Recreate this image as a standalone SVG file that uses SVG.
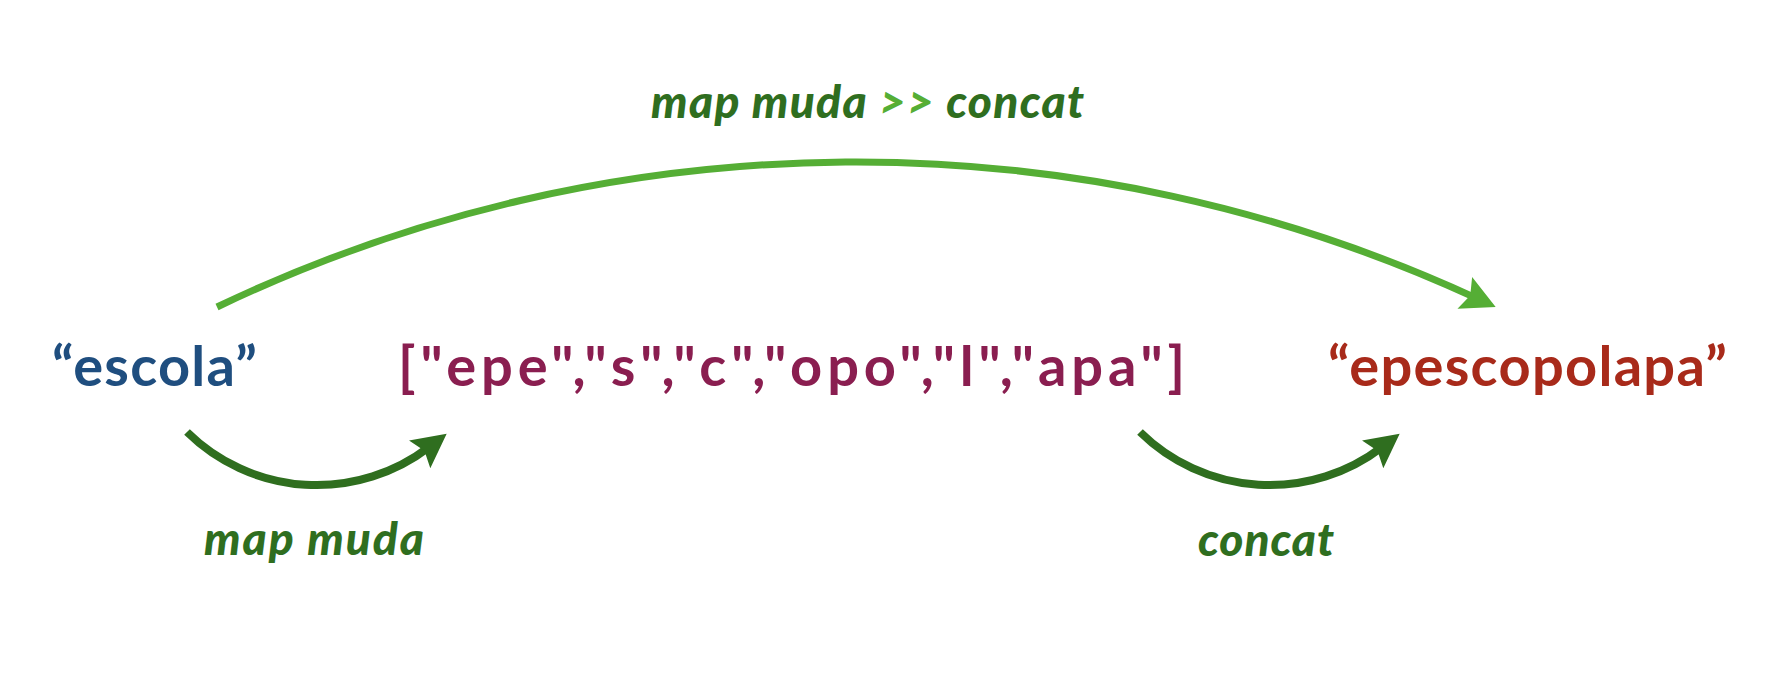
<svg xmlns="http://www.w3.org/2000/svg" width="1768" height="674" viewBox="0 0 1768 674">
  <style>
    .node { font-family: Lato, "Open Sans", "Liberation Sans", sans-serif; font-weight: 700; font-size: 56px; }
    .blue { fill: #1f4e7f; }
    .purple { fill: #8a1e50; }
    .red { fill: #a82a1a; }
    .label { font-family: Lato, "Open Sans", "Liberation Sans", sans-serif; font-weight: 900; font-style: italic; font-size: 46px; fill: #2f6e1f; }
    .light { fill: #55ae35; }
    .dark-arc { fill: none; stroke: #2f6e1f; stroke-width: 8; }
    .light-arc { fill: none; stroke: #55ae35; stroke-width: 7; }
  </style>
  <defs>
    <marker id="arrow-dark" markerUnits="userSpaceOnUse" viewBox="-2 -20 42 40" refX="12" refY="0" markerWidth="42" markerHeight="40" orient="auto" overflow="visible">
      <path d="M0,-17.5 L34,0 L0,17.5 L6,0 Z" fill="#2f6e1f"/>
    </marker>
    <marker id="arrow-light" markerUnits="userSpaceOnUse" viewBox="-2 -20 42 40" refX="12" refY="0" markerWidth="42" markerHeight="40" orient="auto" overflow="visible">
      <path d="M0,-17.5 L34,0 L0,17.5 L6,0 Z" fill="#55ae35"/>
    </marker>
  </defs>
  <rect width="1768" height="674" fill="#ffffff"/>

  <g id="connectors">
    <path id="edge-compose" class="light-arc" d="M217,307 A1480.5,1480.5 0 0 1 1475.7,297.9" marker-end="url(#arrow-light)"/>
    <path id="edge-map" class="dark-arc" d="M187,432 A185,185 0 0 0 429.2,447" marker-end="url(#arrow-dark)"/>
    <path id="edge-concat" class="dark-arc" d="M1140,432 A185,185 0 0 0 1382.2,447" marker-end="url(#arrow-dark)"/>
  </g>

  <g id="labels">
    <text class="label" x="651" y="118" textLength="433" lengthAdjust="spacing">map muda <tspan class="light">&gt;&gt;</tspan> concat</text>
    <text class="label" x="204" y="555" textLength="220" lengthAdjust="spacing">map muda</text>
    <text class="label" x="1198" y="556" textLength="136" lengthAdjust="spacing">concat</text>
  </g>

  <g id="node-escola">
    <text class="node blue" x="52" y="386" textLength="205" lengthAdjust="spacing">“escola”</text>
  </g>
  <g id="node-list">
    <text class="node purple" x="398" y="386" textLength="787" lengthAdjust="spacing">["epe","s","c","opo","l","apa"]</text>
  </g>
  <g id="node-result">
    <text class="node red" x="1328" y="386" textLength="399" lengthAdjust="spacing">“epescopolapa”</text>
  </g>
</svg>
